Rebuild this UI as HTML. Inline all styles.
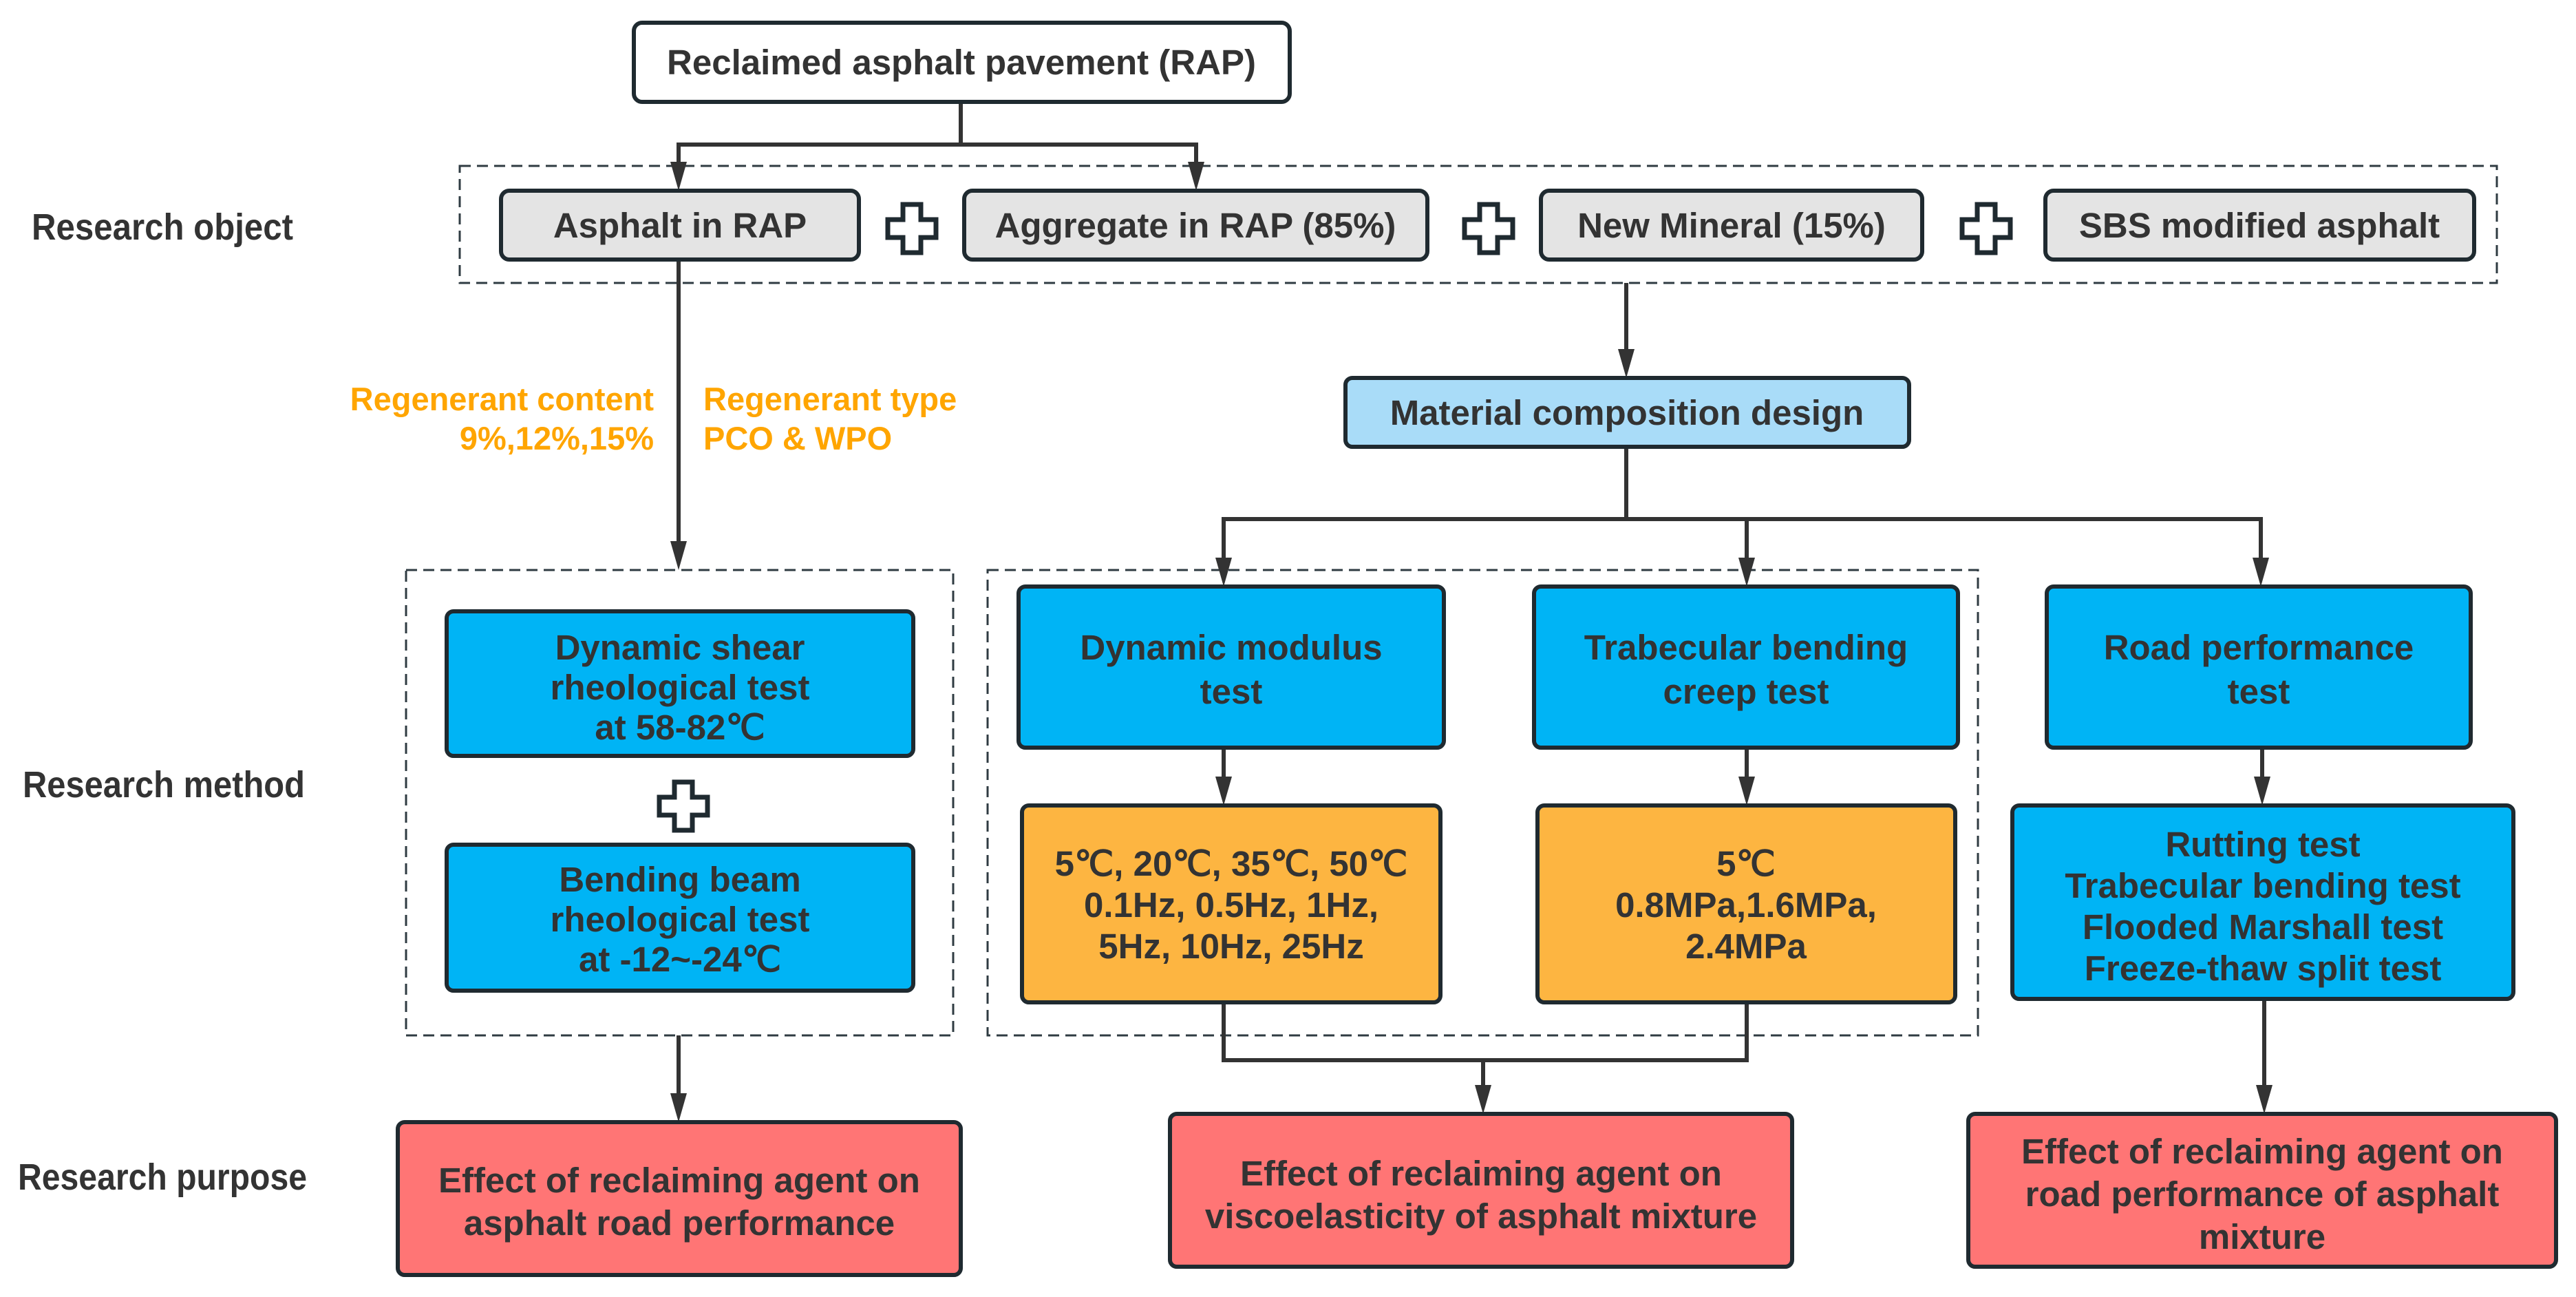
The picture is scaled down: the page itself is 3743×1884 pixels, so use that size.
<!DOCTYPE html>
<html><head><meta charset="utf-8"><style>
body{margin:0;background:#fff}
svg text{font-family:"Liberation Sans",sans-serif;font-weight:bold;fill:#333}
</style></head><body>
<svg width="3743" height="1879" viewBox="0 0 3743 1879" xmlns="http://www.w3.org/2000/svg">
<g fill="none" stroke="#2f3b42" stroke-width="3" stroke-dasharray="16,9">
<rect x="668" y="241" width="2960" height="170"/>
<rect x="590" y="828" width="795" height="676"/>
<rect x="1435" y="828" width="1439" height="676"/>
</g>
<g stroke="#333" stroke-width="6" fill="none">
<polyline points="1396,148 1396,210"/>
<polyline points="986,250 986,210 1738,210 1738,250"/>
<line x1="986" y1="377" x2="986" y2="790"/>
<line x1="2363" y1="411" x2="2363" y2="510"/>
<polyline points="2363,649 2363,754"/>
<polyline points="1778,815 1778,754 3285,754 3285,815"/>
<line x1="2538" y1="754" x2="2538" y2="815"/>
<line x1="1778" y1="1086" x2="1778" y2="1132"/>
<line x1="2538" y1="1086" x2="2538" y2="1132"/>
<line x1="3287" y1="1086" x2="3287" y2="1132"/>
<polyline points="1778,1456 1778,1540 2538,1540 2538,1456"/>
<line x1="2155" y1="1540" x2="2155" y2="1580"/>
<line x1="986" y1="1504" x2="986" y2="1592"/>
<line x1="3290" y1="1451" x2="3290" y2="1580"/>
</g>
<g fill="#333">
<path d="M974,235 L998,235 L986,277 Z"/>
<path d="M1726,235 L1750,235 L1738,277 Z"/>
<path d="M974,786 L998,786 L986,828 Z"/>
<path d="M2351,507 L2375,507 L2363,549 Z"/>
<path d="M1766,810 L1790,810 L1778,852 Z"/>
<path d="M2526,810 L2550,810 L2538,852 Z"/>
<path d="M3273,810 L3297,810 L3285,852 Z"/>
<path d="M1766,1128 L1790,1128 L1778,1170 Z"/>
<path d="M2526,1128 L2550,1128 L2538,1170 Z"/>
<path d="M3275,1128 L3299,1128 L3287,1170 Z"/>
<path d="M2143,1576 L2167,1576 L2155,1618 Z"/>
<path d="M974,1588 L998,1588 L986,1630 Z"/>
<path d="M3278,1576 L3302,1576 L3290,1618 Z"/>
</g>
<g stroke="#1f2a30" stroke-width="6">
<rect x="921" y="33" width="953" height="115" rx="12" fill="#fff"/>
<rect x="728" y="277" width="520" height="100" rx="12" fill="#e4e4e4"/>
<rect x="1401" y="277" width="673" height="100" rx="12" fill="#e4e4e4"/>
<rect x="2239" y="277" width="554" height="100" rx="12" fill="#e4e4e4"/>
<rect x="2972" y="277" width="623" height="100" rx="12" fill="#e4e4e4"/>
<rect x="1955" y="549" width="819" height="100" rx="10" fill="#a9dcf8"/>
<rect x="649" y="888" width="678" height="210" rx="10" fill="#00b4f5"/>
<rect x="649" y="1227" width="678" height="212" rx="10" fill="#00b4f5"/>
<rect x="1480" y="852" width="618" height="234" rx="10" fill="#00b4f5"/>
<rect x="2229" y="852" width="616" height="234" rx="10" fill="#00b4f5"/>
<rect x="2974" y="852" width="616" height="234" rx="10" fill="#00b4f5"/>
<rect x="1485" y="1170" width="608" height="286" rx="10" fill="#fdb541"/>
<rect x="2234" y="1170" width="607" height="286" rx="10" fill="#fdb541"/>
<rect x="2924" y="1170" width="728" height="281" rx="10" fill="#00b4f5"/>
<rect x="578" y="1630" width="818" height="222" rx="10" fill="#ff7575"/>
<rect x="1700" y="1618" width="904" height="222" rx="10" fill="#ff7575"/>
<rect x="2860" y="1618" width="854" height="222" rx="10" fill="#ff7575"/>
</g>
<g fill="#fff" stroke="#1f2a30" stroke-width="7">
<path d="M1312,297 h26 v22 h22 v26 h-22 v22 h-26 v-22 h-22 v-26 h22 z"/>
<path d="M2150,297 h26 v22 h22 v26 h-22 v22 h-26 v-22 h-22 v-26 h22 z"/>
<path d="M2873,297 h26 v22 h22 v26 h-22 v22 h-26 v-22 h-22 v-26 h22 z"/>
<path d="M980,1136 h26 v22 h22 v26 h-22 v22 h-26 v-22 h-22 v-26 h22 z"/>
</g>
<g font-size="51" text-anchor="middle">
<text x="1397" y="108">Reclaimed asphalt pavement (RAP)</text>
<text x="988" y="345">Asphalt in RAP</text>
<text x="1737" y="345">Aggregate in RAP (85%)</text>
<text x="2516" y="345">New Mineral (15%)</text>
<text x="3283" y="345">SBS modified asphalt</text>
<text x="2364" y="617">Material composition design</text>
<text x="988" y="958">Dynamic shear</text>
<text x="988" y="1016">rheological test</text>
<text x="988" y="1074">at 58-82℃</text>
<text x="988" y="1295">Bending beam</text>
<text x="988" y="1353">rheological test</text>
<text x="988" y="1411">at -12~-24℃</text>
<text x="1789" y="958">Dynamic modulus</text>
<text x="1789" y="1022">test</text>
<text x="2537" y="958">Trabecular bending</text>
<text x="2537" y="1022">creep test</text>
<text x="3282" y="958">Road performance</text>
<text x="3282" y="1022">test</text>
<text x="1789" y="1272">5℃, 20℃, 35℃,  50℃</text>
<text x="1789" y="1332">0.1Hz, 0.5Hz, 1Hz,</text>
<text x="1789" y="1392">5Hz, 10Hz, 25Hz</text>
<text x="2537" y="1272">5℃</text>
<text x="2537" y="1332">0.8MPa,1.6MPa,</text>
<text x="2537" y="1392">2.4MPa</text>
<text x="3288" y="1244">Rutting test</text>
<text x="3288" y="1304">Trabecular bending test</text>
<text x="3288" y="1364">Flooded Marshall test</text>
<text x="3288" y="1424">Freeze-thaw split test</text>
<text x="987" y="1732">Effect of reclaiming agent on</text>
<text x="987" y="1794">asphalt road performance</text>
<text x="2152" y="1722">Effect of reclaiming agent on</text>
<text x="2152" y="1784">viscoelasticity of asphalt mixture</text>
<text x="3287" y="1690">Effect of reclaiming agent on</text>
<text x="3287" y="1752">road performance of asphalt</text>
<text x="3287" y="1814">mixture</text>
</g>
<g font-size="47">
<text x="950" y="596" text-anchor="end" style="fill:#ffa500">Regenerant content</text>
<text x="950" y="653" text-anchor="end" style="fill:#ffa500">9%,12%,15%</text>
<text x="1022" y="596" style="fill:#ffa500">Regenerant type</text>
<text x="1022" y="653" style="fill:#ffa500">PCO &amp; WPO</text>
</g>
<g font-size="54">
<text x="46" y="348" textLength="380" lengthAdjust="spacingAndGlyphs">Research object</text>
<text x="33" y="1158" textLength="410" lengthAdjust="spacingAndGlyphs">Research method</text>
<text x="26" y="1728" textLength="420" lengthAdjust="spacingAndGlyphs">Research purpose</text>
</g>
</svg>
</body></html>
